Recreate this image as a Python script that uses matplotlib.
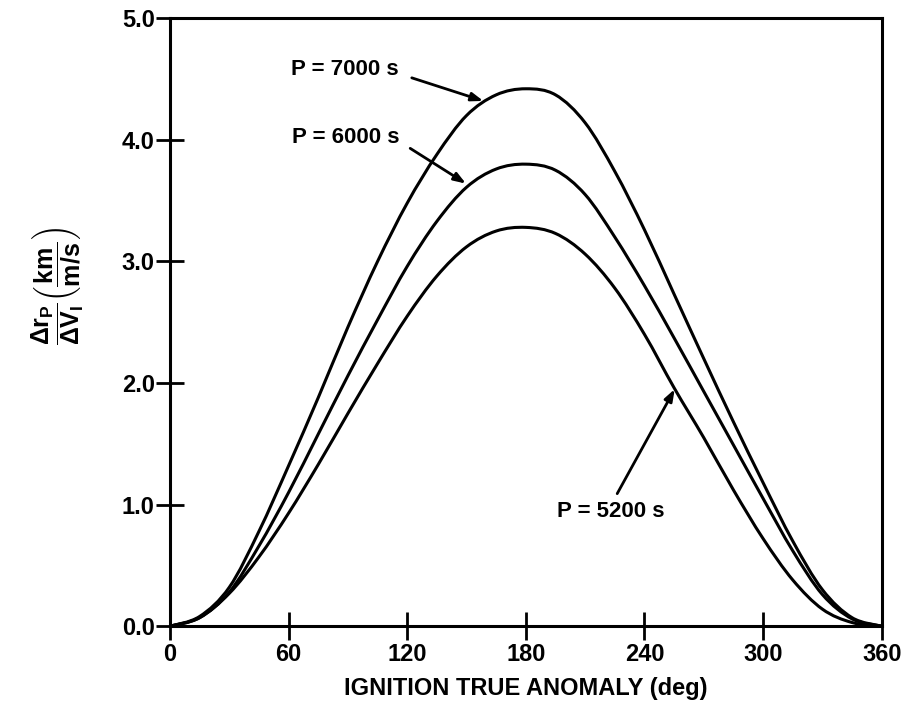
import matplotlib
matplotlib.use("Agg")
import matplotlib.pyplot as plt
from matplotlib.path import Path
from matplotlib.patches import PathPatch
import numpy as np

# values, every 15 deg
anomaly = [0, 15, 30, 45, 60, 75, 90, 105, 120, 135, 150, 165, 180,
           195, 210, 225, 240, 255, 270, 285, 300, 315, 330, 345, 360]
p7000 = [0, 0.08, 0.32, 0.78, 1.32, 1.88, 2.46, 3.00, 3.48, 3.88, 4.20, 4.37, 4.42,
         4.37, 4.14, 3.74, 3.26, 2.73, 2.20, 1.68, 1.18, 0.70, 0.30, 0.07, 0]
p6000 = [0, 0.07, 0.28, 0.66, 1.10, 1.58, 2.06, 2.52, 2.96, 3.33, 3.61, 3.76, 3.80,
         3.75, 3.55, 3.20, 2.80, 2.37, 1.93, 1.49, 1.05, 0.62, 0.26, 0.06, 0]
p5200 = [0, 0.07, 0.27, 0.57, 0.93, 1.33, 1.75, 2.16, 2.55, 2.88, 3.12, 3.25, 3.28,
         3.23, 3.06, 2.78, 2.40, 1.96, 1.55, 1.12, 0.72, 0.38, 0.14, 0.03, 0]

labels = ["P = 7000 s", "P = 6000 s", "P = 5200 s"]
label_xy = [(61, 4.58), (61.5, 4.02), (195.5, 0.94)]
arrow_from = [(122.3, 4.51), (121.5, 3.93), (226.2, 1.09)]
arrow_to = [(158.5, 4.32), (149.7, 3.64), (255.3, 1.95)]

xticks = [0, 60, 120, 180, 240, 300, 360]
yticks = [0.0, 1.0, 2.0, 3.0, 4.0, 5.0]

plt.rcParams['font.family'] = ['Liberation Sans', 'DejaVu Sans']
plt.rcParams['font.weight'] = 'bold'
plt.rcParams['mathtext.fontset'] = 'custom'
plt.rcParams['mathtext.rm'] = 'Liberation Sans:bold'
plt.rcParams['mathtext.it'] = 'Liberation Sans:bold'
plt.rcParams['mathtext.bf'] = 'Liberation Sans:bold'


def smooth_path(xs, ys):
    # catmull-rom through the read points, drawn as bezier segments
    pts = np.column_stack([xs, ys]).astype(float)
    verts = [pts[0]]
    codes = [Path.MOVETO]
    n = len(pts)
    for i in range(n - 1):
        p0 = pts[max(i - 1, 0)]
        p1 = pts[i]
        p2 = pts[i + 1]
        p3 = pts[min(i + 2, n - 1)]
        c1 = p1 + (p2 - p0) / 6.0
        c2 = p2 - (p3 - p1) / 6.0
        verts += [c1, c2, p2]
        codes += [Path.CURVE4] * 3
    return Path(verts, codes)


fig = plt.figure(figsize=(9.09, 7.02), dpi=100)
ax = fig.add_axes([0.187, 0.108, 0.783, 0.866])

for ys in (p7000, p6000, p5200):
    ax.add_patch(PathPatch(smooth_path(anomaly, ys), facecolor='none',
                           edgecolor='black', lw=2.2))

for txt, xy, a0, a1 in zip(labels, label_xy, arrow_from, arrow_to):
    ax.text(xy[0], xy[1], txt, ha='left', va='center', fontsize=16,
            fontweight='bold')
    ax.annotate('', xy=a1, xytext=a0,
                arrowprops=dict(arrowstyle='-|>,head_length=0.7,head_width=0.25',
                                color='black', lw=2.0, shrinkA=0, shrinkB=0))

ax.set_xlim(0, 360)
ax.set_ylim(0, 5)
ax.set_xticks(xticks)
ax.set_xticklabels([str(t) for t in xticks])
ax.set_yticks(yticks)
ax.set_yticklabels(['%.1f' % t for t in yticks])
ax.tick_params(axis='both', direction='inout', length=20, width=2,
               labelsize=17, color='black')
ax.tick_params(axis='x', pad=2)
ax.tick_params(axis='y', pad=1)
for lab in ax.get_xticklabels() + ax.get_yticklabels():
    lab.set_fontweight('bold')
for sp in ax.spines.values():
    sp.set_linewidth(2.2)

ax.set_xlabel('IGNITION TRUE ANOMALY (deg)', fontsize=17, fontweight='bold',
              labelpad=8)
ax.set_ylabel(r'$\dfrac{\Delta r_P}{\Delta V_I}\left(\dfrac{km}{m/s}\right)$',
              fontsize=18)
ax.yaxis.set_label_coords(-0.118, 0.56)

fig.savefig('out.png', dpi=100)
